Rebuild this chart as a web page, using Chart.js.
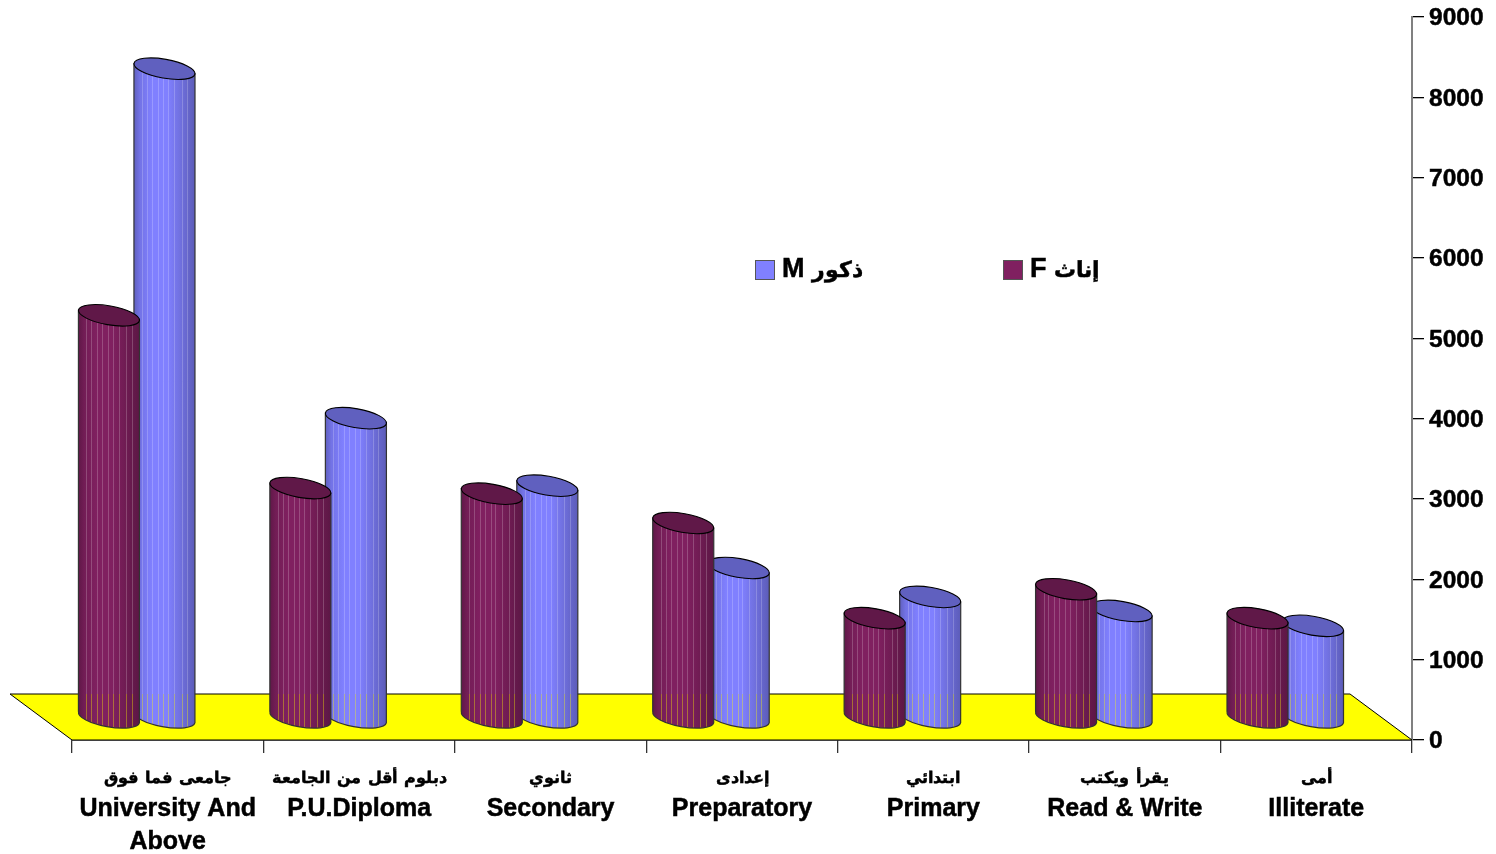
<!DOCTYPE html>
<html>
<head>
<meta charset="utf-8">
<title>F / M by education</title>
<script src="https://cdn.jsdelivr.net/npm/chart.js@4"></script>
<style>
  /* arabic letters run wide in DejaVu, bring them down to the width of the reference */
  @font-face {
    font-family: "ArabicFit";
    src: local("DejaVu Sans Bold");
    font-weight: bold;
    size-adjust: 65%;
    unicode-range: U+0600-06FF, U+FB50-FDFF, U+FE70-FEFF;
  }
  @font-face {
    font-family: "ArabicLegend";
    src: local("DejaVu Sans Bold");
    font-weight: bold;
    size-adjust: 82%;
    unicode-range: U+0600-06FF, U+FB50-FDFF, U+FE70-FEFF;
  }
  html, body { margin: 0; padding: 0; background: #fff; }
  canvas { display: block; }
</style>
</head>
<body>
<canvas id="myChart" width="1496" height="854"></canvas>
<script>
// categories, arabic first line then english lines
const arabicNames = ['جامعى فما فوق', 'دبلوم أقل من الجامعة', 'ثانوي', 'إعدادى', 'ابتدائي', 'يقرأ ويكتب', 'أمى'];
const englishNames = [['University And', 'Above'], ['P.U.Diploma'], ['Secondary'], ['Preparatory'], ['Primary'], ['Read & Write'], ['Illiterate']];

const femaleValues = [5000, 2850, 2780, 2415, 1230, 1590, 1230];
const maleValues = [8070, 3720, 2880, 1855, 1495, 1320, 1135];

const yTicks = [0, 1000, 2000, 3000, 4000, 5000, 6000, 7000, 8000, 9000];

// where the bars stand on the floor, the floor goes back twice this far
const depthX = -31;
const depthY = -23;
// seams of the cylinder, as part of its width
const seams = [0.13, 0.21, 0.3, 0.39, 0.48, 0.56, 0.66, 0.78, 0.87];

function shade(hex, k) {
    const n = parseInt(hex.slice(1), 16);
    const r = Math.round((n >> 16) * k);
    const g = Math.round(((n >> 8) & 255) * k);
    const b = Math.round((n & 255) * k);
    return 'rgb(' + r + ',' + g + ',' + b + ')';
}

function drawCylinder(ctx, bar, color, floorY) {
    const cx = bar.x + depthX;
    const a = bar.width / 2;
    const b = a * 0.31;
    const tilt = 10 * Math.PI / 180;
    const topY = bar.y + depthY;
    const baseY = bar.base + depthY;
    // how far the edge of a tilted ellipse sits from its centre
    const edge = a * 0.16;

    const body = new Path2D();
    body.moveTo(cx - a, topY - edge);
    body.lineTo(cx - a, baseY - edge);
    body.ellipse(cx, baseY + 1, a + 0.4, b, tilt, Math.PI + 0.02, 0, true);
    body.lineTo(cx + a, topY + edge);
    body.closePath();

    ctx.save();
    const grad = ctx.createLinearGradient(cx - a, 0, cx + a, 0);
    grad.addColorStop(0, shade(color, 0.75));
    grad.addColorStop(0.1, shade(color, 0.9));
    grad.addColorStop(0.3, shade(color, 1));
    grad.addColorStop(0.55, shade(color, 1));
    grad.addColorStop(0.75, shade(color, 0.88));
    grad.addColorStop(1, shade(color, 0.72));
    ctx.fillStyle = grad;
    ctx.fill(body);

    // seams let the background through
    ctx.save();
    ctx.clip(body);
    ctx.lineWidth = 1;
    seams.forEach((s) => {
        const x = Math.round(cx - a + s * 2 * a) + 0.5;
        ctx.strokeStyle = 'rgba(255,255,255,0.2)';
        ctx.beginPath();
        ctx.moveTo(x, topY);
        ctx.lineTo(x, floorY);
        ctx.stroke();
        ctx.strokeStyle = 'rgba(255,255,0,0.36)';
        ctx.beginPath();
        ctx.moveTo(x, floorY);
        ctx.lineTo(x, baseY + b + 12);
        ctx.stroke();
    });
    ctx.restore();

    ctx.strokeStyle = '#333';
    ctx.lineWidth = 1.2;
    ctx.stroke(body);

    // top
    ctx.beginPath();
    ctx.ellipse(cx, topY, a + 0.4, b, tilt, 0, Math.PI * 2);
    ctx.fillStyle = shade(color, 0.75);
    ctx.fill();
    ctx.strokeStyle = '#000';
    ctx.lineWidth = 1.1;
    ctx.stroke();
    ctx.restore();
}

const floorAndCylinders = {
    id: 'floorAndCylinders',
    beforeDatasetsDraw(chart) {
        const ctx = chart.ctx;
        const area = chart.chartArea;
        ctx.save();
        ctx.beginPath();
        ctx.moveTo(area.left, area.bottom);
        ctx.lineTo(area.right, area.bottom);
        ctx.lineTo(area.right + depthX * 2, area.bottom + depthY * 2);
        ctx.lineTo(area.left + depthX * 2, area.bottom + depthY * 2);
        ctx.closePath();
        ctx.fillStyle = '#ffff00';
        ctx.fill();
        ctx.strokeStyle = '#000';
        ctx.lineWidth = 1;
        ctx.stroke();
        ctx.restore();
    },
    beforeDatasetDraw(chart, args) {
        const floorY = chart.chartArea.bottom + depthY * 2;
        const ds = chart.data.datasets[args.index];
        args.meta.data.forEach((bar) => {
            drawCylinder(chart.ctx, bar, ds.backgroundColor, floorY);
        });
        return false;
    },
    afterDraw(chart) {
        // legend sits in the middle of the plot, M first
        const ctx = chart.ctx;
        const spots = [1003, 755];
        ctx.save();
        ctx.font = 'bold 27px "Liberation Sans", "ArabicLegend", "DejaVu Sans"';
        ctx.textBaseline = 'middle';
        chart.data.datasets.forEach((ds, i) => {
            ctx.fillStyle = ds.backgroundColor;
            ctx.fillRect(spots[i] + 0.5, 260.5, 19, 19);
            ctx.strokeStyle = '#555';
            ctx.lineWidth = 1;
            ctx.strokeRect(spots[i] + 0.5, 260.5, 19, 19);
            ctx.fillStyle = '#000';
            ctx.strokeStyle = '#000';
            ctx.lineWidth = 0.5;
            ctx.strokeText(ds.label, spots[i] + 27, 270);
            ctx.fillText(ds.label, spots[i] + 27, 270);
        });
        ctx.restore();
    }
};

const data = {
    labels: arabicNames.map((name, i) => [name].concat(englishNames[i])),
    datasets: [
        { label: 'F إناث', data: femaleValues, backgroundColor: '#802060', categoryPercentage: 0.58, barPercentage: 1.1 },
        { label: 'M ذكور', data: maleValues, backgroundColor: '#8080ff', categoryPercentage: 0.58, barPercentage: 1.1 }
    ]
};

const config = {
    type: 'bar',
    data,
    plugins: [floorAndCylinders],
    options: {
        responsive: false,
        animation: false,
        layout: { padding: { left: 72, top: 17, right: 0, bottom: 0 } },
        plugins: {
            legend: { display: false },
            tooltip: { enabled: false }
        },
        scales: {
            x: {
                afterFit(scale) { scale.height = 114; },
                border: { color: '#000', width: 1.5 },
                grid: { drawOnChartArea: false, tickLength: 13, color: '#333', lineWidth: 1.3 },
                ticks: {
                    color: '#000',
                    textStrokeColor: '#000',
                    textStrokeWidth: 0.5,
                    maxRotation: 0,
                    autoSkip: false,
                    padding: 7,
                    font: { family: '"Liberation Sans", "ArabicFit", "DejaVu Sans"', size: 25, weight: 'bold', lineHeight: 1.32 }
                }
            },
            y: {
                position: 'right',
                min: 0,
                max: 9000,
                afterFit(scale) {
                    scale.width = 84;
                    scale.paddingTop = 0;
                },
                afterBuildTicks(scale) { scale.ticks = yTicks.map((v) => ({ value: v })); },
                border: { color: '#808080', width: 2 },
                grid: { drawOnChartArea: false, tickLength: 12, color: '#000', lineWidth: 1.3 },
                ticks: {
                    color: '#000',
                    textStrokeColor: '#000',
                    textStrokeWidth: 0.5,
                    padding: 5,
                    labelOffset: 1.5,
                    callback: (v) => String(v),
                    font: { family: '"Liberation Sans"', size: 24.5, weight: 'bold' }
                }
            }
        }
    }
};

function createChart() {
    const myChart = new Chart(document.getElementById('myChart'), config);
}

// canvas text needs the local fonts ready first
Promise.all([
    document.fonts.load('bold 25px "ArabicFit"', 'جامعى'),
    document.fonts.load('bold 27px "ArabicLegend"', 'ذكور')
]).then(createChart, createChart);
</script>
</body>
</html>
